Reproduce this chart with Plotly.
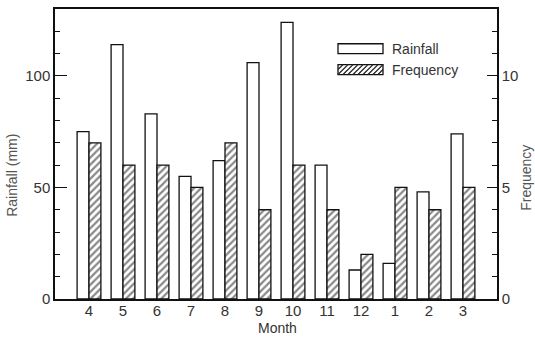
import plotly.graph_objects as go

months = ["4", "5", "6", "7", "8", "9", "10", "11", "12", "1", "2", "3"]
rainfall = [75, 114, 83, 55, 62, 106, 124, 60, 13, 16, 48, 74]
frequency = [7, 6, 6, 5, 7, 4, 6, 4, 2, 5, 4, 5]

xpos = list(range(len(months)))
FONT = "Liberation Sans, Arial, sans-serif"
TXT = "#333333"

W, H = 535, 338
L, R, T, B = 55, 38, 7, 39
PW, PH = W - L - R, H - T - B

def fx(px):
    return (px - L) / PW

def fy(py):
    return (H - B - py) / PH

fig = go.Figure()
fig.add_trace(go.Bar(
    x=xpos, y=rainfall, name="Rainfall", width=0.35, offset=-0.35,
    marker=dict(color="white", line=dict(color="#111111", width=1.3)),
    yaxis="y", showlegend=False,
))
fig.add_trace(go.Bar(
    x=xpos, y=frequency, name="Frequency", width=0.35, offset=0,
    marker=dict(color="white", line=dict(color="#111111", width=1.3),
                pattern=dict(shape="/", fgcolor="#111111", bgcolor="white",
                             size=5, solidity=0.45)),
    yaxis="y2", showlegend=False,
))

# legend drawn manually
shapes = []
shapes.append(dict(type="rect", xref="paper", yref="paper",
                   x0=fx(338), x1=fx(383), y0=fy(52), y1=fy(42),
                   line=dict(color="#111111", width=1.3), fillcolor="white"))
shapes.append(dict(type="rect", xref="paper", yref="paper",
                   x0=fx(338), x1=fx(383), y0=fy(73), y1=fy(63),
                   line=dict(color="#111111", width=1.3), fillcolor="white"))
path = ""
xs = 338 - 10
while xs < 383:
    t0 = max(xs, 338)
    t1 = min(xs + 10, 383)
    if t0 < t1:
        path += "M{:.4f},{:.4f}L{:.4f},{:.4f}".format(
            fx(t0), fy(73 - (t0 - xs)), fx(t1), fy(73 - (t1 - xs)))
    xs += 5
shapes.append(dict(type="path", xref="paper", yref="paper", path=path,
                   line=dict(color="#222222", width=1.3)))

annotations = [
    dict(text="Rainfall", xref="paper", yref="paper", x=fx(390), y=fy(47),
         xanchor="left", yanchor="middle", showarrow=False,
         font=dict(family=FONT, size=14, color=TXT)),
    dict(text="Frequency", xref="paper", yref="paper", x=fx(390), y=fy(68),
         xanchor="left", yanchor="middle", showarrow=False,
         font=dict(family=FONT, size=14, color=TXT)),
    dict(text="Rainfall (mm)", xref="paper", yref="paper", x=fx(12), y=fy(175),
         xanchor="center", yanchor="middle", textangle=-90, showarrow=False,
         font=dict(family=FONT, size=14, color="#555555")),
    dict(text="Frequency", xref="paper", yref="paper", x=fx(526), y=fy(177),
         xanchor="center", yanchor="middle", textangle=-90, showarrow=False,
         font=dict(family=FONT, size=14, color="#555555")),
    dict(text="Month", xref="paper", yref="paper", x=fx(277), y=fy(328),
         xanchor="center", yanchor="middle", showarrow=False,
         font=dict(family=FONT, size=14, color=TXT)),
]

fig.update_layout(
    width=W, height=H,
    margin=dict(l=L, r=R, t=T, b=B, pad=0),
    paper_bgcolor="white", plot_bgcolor="white",
    barmode="overlay",
    showlegend=False,
    font=dict(family=FONT, size=14, color=TXT),
    xaxis=dict(range=[-1.0, 12.0], tickvals=xpos, ticktext=months,
               ticks="", showgrid=False, zeroline=False, ticklabelstandoff=-3,
               showline=True, linecolor="#111111", linewidth=1.5, mirror=True,
               tickfont=dict(family=FONT, size=15, color=TXT)),
    yaxis=dict(range=[0, 130], tickvals=[0, 50, 100], ticks="inside",
               ticklen=12, tickwidth=1.3, tickcolor="#111111",
               minor=dict(dtick=10, tick0=0, ticks="inside", ticklen=5,
                          tickwidth=1.3, tickcolor="#111111", showgrid=False),
               showgrid=False, zeroline=False,
               showline=True, linecolor="#111111", linewidth=1.5,
               tickfont=dict(family=FONT, size=15, color=TXT)),
    yaxis2=dict(range=[0, 13], tickvals=[0, 5, 10], ticks="inside",
                ticklen=10, tickwidth=1.3, tickcolor="#111111",
                minor=dict(dtick=1, tick0=0, ticks="inside", ticklen=5,
                           tickwidth=1.3, tickcolor="#111111", showgrid=False),
                overlaying="y", side="right", showgrid=False, zeroline=False,
                showline=True, linecolor="#111111", linewidth=1.5,
                tickfont=dict(family=FONT, size=15, color=TXT)),
    shapes=shapes,
    annotations=annotations,
)

fig.write_html(
    "out.html",
    config={"displayModeBar": False},
    post_script="document.body.style.margin='0px';document.body.style.overflow='hidden';",
)
